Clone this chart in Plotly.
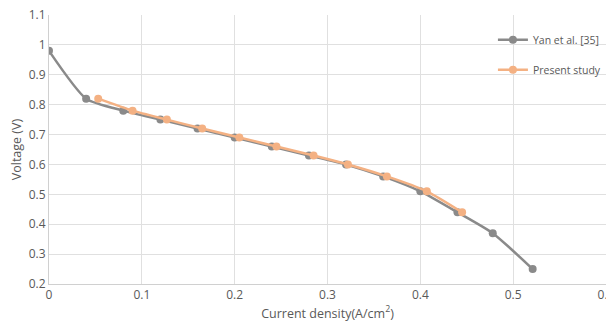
import plotly.graph_objects as go

yan_x = [0.0, 0.04, 0.08, 0.12, 0.16, 0.20, 0.24, 0.28, 0.32, 0.36, 0.40, 0.44, 0.478, 0.521]
yan_y = [0.98, 0.82, 0.78, 0.75, 0.72, 0.69, 0.66, 0.63, 0.60, 0.56, 0.51, 0.44, 0.37, 0.25]
pres_x = [0.053, 0.090, 0.127, 0.165, 0.205, 0.245, 0.285, 0.322, 0.364, 0.407, 0.445]
pres_y = [0.82, 0.78, 0.75, 0.72, 0.69, 0.66, 0.63, 0.60, 0.56, 0.51, 0.44]

x_ticks = [0, 0.1, 0.2, 0.3, 0.4, 0.5, 0.6]
x_labels = ["0", "0.1", "0.2", "0.3", "0.4", "0.5", "0.6"]
y_ticks = [0.2, 0.3, 0.4, 0.5, 0.6, 0.7, 0.8, 0.9, 1.0, 1.1]
y_labels = ["0.2", "0.3", "0.4", "0.5", "0.6", "0.7", "0.8", "0.9", "1", "1.1"]

fig = go.Figure()
fig.add_trace(go.Scatter(
    x=yan_x, y=yan_y, name="Yan et al. [35]", mode="lines+markers",
    line=dict(color="#8a8a8a", width=2.5, shape="spline", smoothing=0.6),
    marker=dict(color="#8a8a8a", size=8), legendgroup="a"))
fig.add_trace(go.Scatter(
    x=pres_x, y=pres_y, name="Present study", mode="lines+markers",
    line=dict(color="#f4b183", width=2.5, shape="spline", smoothing=0.6),
    marker=dict(color="#f4b183", size=8), legendgroup="b"))

# page body has an 8px default margin, so the figure is sized to fit the window
fig.update_layout(
    width=606, height=315,
    margin=dict(l=41, r=8, t=7, b=39, autoexpand=False),
    paper_bgcolor="white", plot_bgcolor="white",
    font=dict(family="Open Sans, Liberation Sans, sans-serif", size=12, color="#595959"),
    showlegend=True,
    legend=dict(x=0.797, y=0.962, xanchor="left", yanchor="top",
                bgcolor="rgba(255,255,255,0)", font=dict(size=10.5, color="#595959"),
                tracegroupgap=11, itemwidth=30),
    xaxis=dict(range=[0, 0.6], tickvals=x_ticks, ticktext=x_labels, automargin=False,
               ticklabeloverflow="allow",
               showgrid=True, gridcolor="#e0e0e0", gridwidth=1,
               showline=True, linecolor="#d0d0d0", linewidth=1, zeroline=False,
               ticks="", title=dict(text="Current density(A/cm<sup>2</sup>)", standoff=2,
                                    font=dict(size=12.5, color="#595959"))),
    yaxis=dict(range=[0.2, 1.1], tickvals=y_ticks, ticktext=y_labels, automargin=False,
               ticklabeloverflow="allow",
               showgrid=True, gridcolor="#e0e0e0", gridwidth=1,
               showline=True, linecolor="#d0d0d0", linewidth=1, zeroline=False,
               ticks="", title=dict(text="Voltage (V)", standoff=4,
                                    font=dict(size=12.5, color="#595959"))),
)
fig.write_html("out.html")
